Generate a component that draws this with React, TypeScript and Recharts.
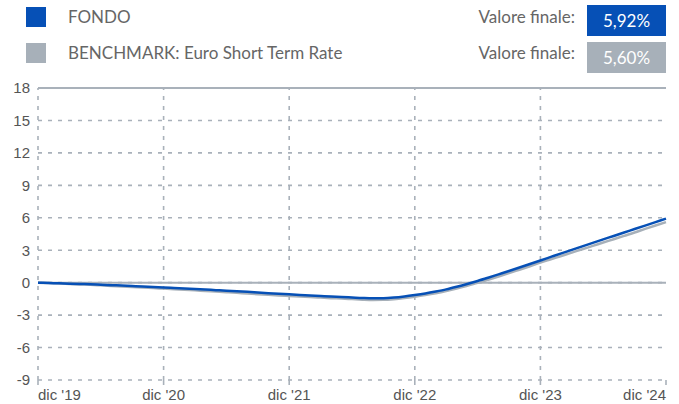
import React from "react";
import { LineChart, Line, XAxis, YAxis, CartesianGrid, ReferenceLine } from "recharts";

const months: number[] = Array.from({ length: 61 }, (_, i) => i);

const fondo: number[] = [
  0, -0.03, -0.06, -0.09, -0.12, -0.15, -0.19, -0.23, -0.27, -0.31, -0.35, -0.4,
  -0.44, -0.49, -0.54, -0.59, -0.64, -0.69, -0.74, -0.8, -0.85, -0.91, -0.97, -1.02,
  -1.08, -1.13, -1.18, -1.23, -1.28, -1.32, -1.37, -1.42, -1.45, -1.44, -1.38, -1.28,
  -1.15, -1.0, -0.82, -0.62, -0.38, -0.12, 0.16, 0.46, 0.77, 1.08, 1.4, 1.73,
  2.05, 2.38, 2.71, 3.03, 3.36, 3.68, 4.0, 4.32, 4.64, 4.96, 5.28, 5.6, 5.92,
];

const benchmark: number[] = [
  0, -0.04, -0.08, -0.12, -0.16, -0.2, -0.25, -0.3, -0.35, -0.4, -0.45, -0.5,
  -0.55, -0.6, -0.66, -0.71, -0.77, -0.82, -0.88, -0.94, -1.0, -1.06, -1.12, -1.18,
  -1.23, -1.28, -1.33, -1.38, -1.43, -1.47, -1.52, -1.57, -1.6, -1.59, -1.53, -1.43,
  -1.3, -1.15, -0.98, -0.78, -0.55, -0.29, -0.02, 0.27, 0.57, 0.88, 1.2, 1.52,
  1.85, 2.16, 2.47, 2.78, 3.09, 3.4, 3.71, 4.02, 4.33, 4.64, 4.97, 5.29, 5.6,
];

const xTicks: number[] = [0, 12, 24, 36, 48, 60];
const xTickLabels: string[] = ["dic '19", "dic '20", "dic '21", "dic '22", "dic '23", "dic '24"];
const yTicks: number[] = [-9, -6, -3, 0, 3, 6, 9, 12, 15, 18];
const gridYears: number[] = [0, 12, 24, 36, 48];

const seriesNames: string[] = ["FONDO", "BENCHMARK: Euro Short Term Rate"];
const finalValues: string[] = ["5,92%", "5,60%"];

const BLUE = "#0650b6";
const GRAY = "#a7b0b9";
const GRID = "#a9b1ba";

const data = months.map((m, i) => ({ m, fondo: fondo[i], bench: benchmark[i] }));

const axisFont = "'Liberation Sans', Arial, sans-serif";

const XTick = (props: any) => {
  const { x, y, payload } = props;
  const idx = xTicks.indexOf(payload.value);
  const anchor = idx === 0 ? "start" : idx === xTicks.length - 1 ? "end" : "middle";
  return (
    <text
      x={x}
      y={y}
      dy="0.71em"
      textAnchor={anchor}
      fill="#555"
      fontSize={15}
      fontFamily={axisFont}
    >
      {xTickLabels[idx] ?? ""}
    </text>
  );
};

const legendFont = "Lato, 'Noto Sans', sans-serif";

export default function App() {
  const colors = [BLUE, GRAY];
  return (
    <div
      style={{
        position: "absolute",
        left: 0,
        top: 0,
        width: 679,
        height: 404,
        background: "#fff",
        overflow: "hidden",
      }}
    >
      {seriesNames.map((name, i) => (
        <React.Fragment key={name}>
          <div
            style={{
              position: "absolute",
              left: 26,
              top: 7 + i * 36,
              width: 20,
              height: 20,
              background: colors[i],
            }}
          />
          <div
            style={{
              position: "absolute",
              left: 68,
              top: 7 + i * 36,
              height: 20,
              lineHeight: "20px",
              fontSize: 17,
              fontFamily: legendFont,
              color: "#666",
              whiteSpace: "nowrap",
            }}
          >
            {name}
          </div>
          <div
            style={{
              position: "absolute",
              right: 104,
              top: 7 + i * 36,
              height: 20,
              lineHeight: "20px",
              fontSize: 17,
              fontFamily: legendFont,
              color: "#666",
              whiteSpace: "nowrap",
            }}
          >
            Valore finale:
          </div>
          <div
            style={{
              position: "absolute",
              left: 587,
              top: 5 + i * 37,
              width: 79,
              height: 31,
              lineHeight: "31px",
              background: colors[i],
              color: "#fff",
              fontSize: 17,
              fontFamily: legendFont,
              textAlign: "center",
            }}
          >
            {finalValues[i]}
          </div>
        </React.Fragment>
      ))}
      <div style={{ position: "absolute", left: 0, top: 0 }}>
        <LineChart
          width={679}
          height={404}
          data={data}
          margin={{ top: 88, right: 13, bottom: 0, left: 0 }}
        >
          <CartesianGrid
            vertical={false}
            stroke={GRID}
            strokeDasharray="4 6"
            strokeWidth={1.6}
          />
          {gridYears.map((g) => (
            <ReferenceLine
              key={g}
              x={g}
              stroke={GRID}
              strokeDasharray="4 6"
              strokeWidth={1.6}
            />
          ))}
          <ReferenceLine y={0} stroke={GRID} strokeWidth={2} />
          <ReferenceLine y={18} stroke={GRID} strokeWidth={2} />
          <XAxis
            dataKey="m"
            type="number"
            domain={[0, 60]}
            ticks={xTicks}
            interval={0}
            height={24}
            axisLine={false}
            tickSize={5}
            tickMargin={4}
            tickLine={{ stroke: GRID, strokeWidth: 1.6 }}
            tick={<XTick />}
          />
          <YAxis
            type="number"
            domain={[-9, 18]}
            ticks={yTicks}
            interval={0}
            width={38}
            axisLine={false}
            tickLine={false}
            tick={{ fill: "#555", fontSize: 15, fontFamily: axisFont }}
          />
          <Line
            type="monotone"
            dataKey="bench"
            stroke={GRAY}
            strokeWidth={2.5}
            dot={false}
            isAnimationActive={false}
          />
          <Line
            type="monotone"
            dataKey="fondo"
            stroke={BLUE}
            strokeWidth={2.5}
            dot={false}
            isAnimationActive={false}
          />
        </LineChart>
      </div>
    </div>
  );
}
